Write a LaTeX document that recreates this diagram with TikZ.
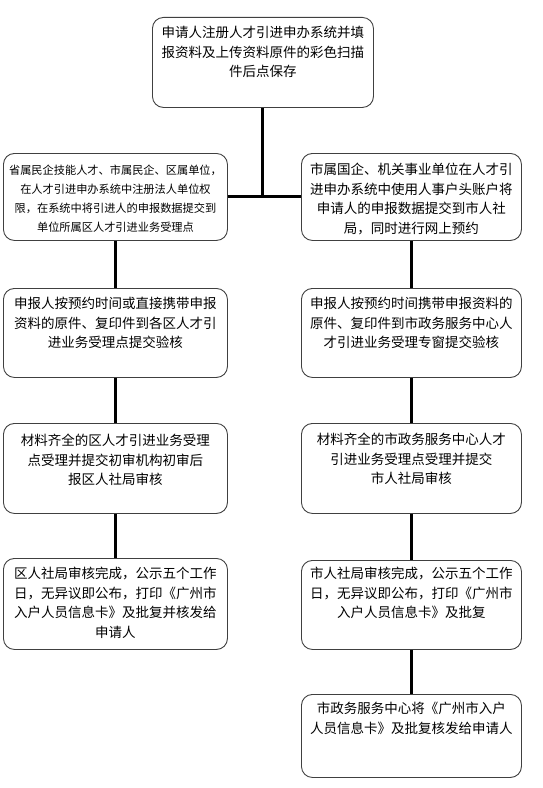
\documentclass[tikz,border=0pt]{standalone}
\usepackage{fontspec}
\setmainfont{Noto Sans CJK SC}
\begin{document}
\begin{tikzpicture}[x=1bp,y=-1bp,
  box/.style={draw=black!75,line width=0.9bp,rounded corners=11bp,fill=white,anchor=north west,inner sep=0pt},
  txt/.style={anchor=north,align=center,inner sep=0pt,font=\fontsize{13.5bp}{19.5bp}\selectfont},
  stxt/.style={txt,font=\fontsize{11.2bp}{19bp}\selectfont},
  conn/.style={line width=3bp,black}]
\useasboundingbox[fill=white] (0,0) rectangle (543,788);
% boxes
\node[box,minimum width=221bp,minimum height=90bp] (b1) at (152,17) {};
\node[box,minimum width=224bp,minimum height=87bp] (l2) at (3,153) {};
\node[box,minimum width=220bp,minimum height=87bp] (r2) at (301,153) {};
\node[box,minimum width=224bp,minimum height=89bp] (l3) at (3,288) {};
\node[box,minimum width=220bp,minimum height=89bp] (r3) at (301,288) {};
\node[box,minimum width=224bp,minimum height=90bp] (l4) at (3,423) {};
\node[box,minimum width=220bp,minimum height=90bp] (r4) at (301,423) {};
\node[box,minimum width=224bp,minimum height=91bp] (l5) at (3,558) {};
\node[box,minimum width=220bp,minimum height=89bp] (r5) at (301,560) {};
\node[box,minimum width=220bp,minimum height=83bp] (r6) at (301,694) {};
% texts
\node[txt] (t1) at ([yshift=-9bp]b1.north) {申请人注册人才引进申办系统并填\\报资料及上传资料原件的彩色扫描\\件后点保存};
\node[stxt] (tl2) at ([yshift=-12bp]l2.north) {省属民企技能人才、市属民企、区属单位，\\在人才引进申办系统中注册法人单位权\\限，在系统中将引进人的申报数据提交到\\单位所属区人才引进业务受理点};
\node[txt] (tr2) at ([yshift=-10bp]r2.north) {市属国企、机关事业单位在人才引\\进申办系统中使用人事户头账户将\\申请人的申报数据提交到市人社\\局，同时进行网上预约};
\node[txt] (tl3) at ([yshift=-9bp]l3.north) {申报人按预约时间或直接携带申报\\资料的原件、复印件到各区人才引\\进业务受理点提交验核};
\node[txt] (tr3) at ([yshift=-9bp]r3.north) {申报人按预约时间携带申报资料的\\原件、复印件到市政务服务中心人\\才引进业务受理专窗提交验核};
\node[txt] (tl4) at ([yshift=-11bp]l4.north) {材料齐全的区人才引进业务受理\\点受理并提交初审机构初审后\\报区人社局审核};
\node[txt] (tr4) at ([yshift=-10bp]r4.north) {材料齐全的市政务服务中心人才\\引进业务受理点受理并提交\\市人社局审核};
\node[txt] (tl5) at ([yshift=-9bp]l5.north) {区人社局审核完成，公示五个工作\\日，无异议即公布，打印《广州市\\入户人员信息卡》及批复并核发给\\申请人};
\node[txt] (tr5) at ([yshift=-7bp]r5.north) {市人社局审核完成，公示五个工作\\日，无异议即公布，打印《广州市\\入户人员信息卡》及批复};
\node[txt] (tr6) at ([yshift=-8bp]r6.north) {市政务服务中心将《广州市入户\\人员信息卡》及批复核发给申请人};
% connectors
\draw[conn] (l2.east) -- (r2.west);
\draw[conn] (b1.south) -- (b1.south |- l2.east);
\draw[conn] (l2.south) -- (l3.north);
\draw[conn] (l3.south) -- (l4.north);
\draw[conn] (l4.south) -- (l5.north);
\draw[conn] (r2.south) -- (r3.north);
\draw[conn] (r3.south) -- (r4.north);
\draw[conn] (r4.south) -- (r5.north);
\draw[conn] (r5.south) -- (r6.north);
\end{tikzpicture}
\end{document}
